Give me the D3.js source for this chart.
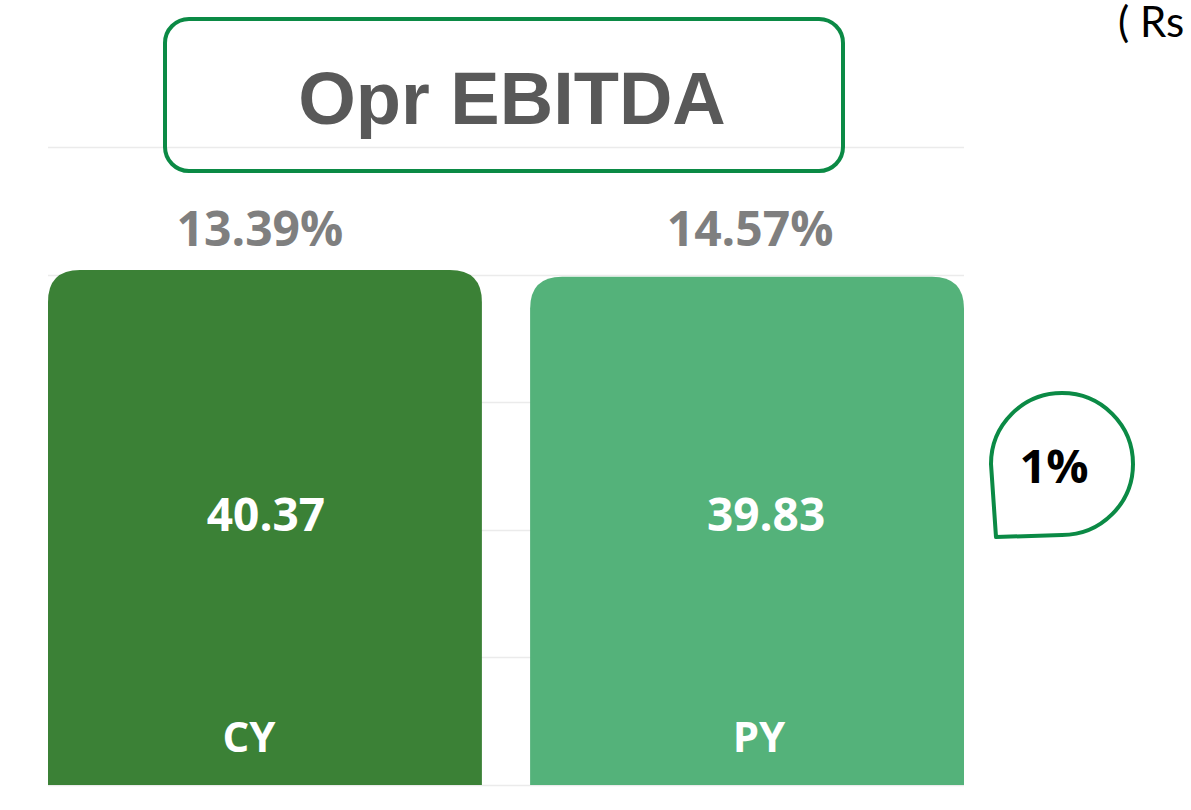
<!DOCTYPE html>
<html>
<head>
<meta charset="utf-8">
<script src="https://cdn.jsdelivr.net/npm/d3@7"></script>
<style>
  html, body { margin: 0; padding: 0; background: #ffffff; overflow: hidden; }
  svg { display: block; }
</style>
</head>
<body>
<svg id="chart" width="1191" height="810"></svg>
<script>
// chart data
var categories = ["CY", "PY"];
var values = [40.37, 39.83];
var marginLabels = ["13.39%", "14.57%"];
var gridTicks = [0, 10, 20, 30, 40, 50];
var titleText = "Opr EBITDA";
var unitText = "( Rs in Cr )";

var barColors = ["#3b8136", "#54b27a"];
var green = "#0b8a45";
var labelFont = "'Open Sans', sans-serif";

var svg = d3.select("#chart");

var x = d3.scaleBand()
    .domain(categories)
    .range([48, 964])
    .paddingInner(0.1)
    .paddingOuter(0);

var y = d3.scaleLinear()
    .domain([0, 50])
    .range([785, 147]);

// grid lines
svg.append("g")
    .attr("class", "grid")
  .selectAll("line")
  .data(gridTicks)
  .enter().append("line")
    .attr("x1", 48)
    .attr("x2", 964)
    .attr("y1", function(d) { return Math.round(y(d)) + 0.5; })
    .attr("y2", function(d) { return Math.round(y(d)) + 0.5; })
    .attr("stroke", "#ebebeb")
    .attr("stroke-width", 1.5);

// bars with rounded top corners
function topRounded(x0, y0, w, h, r) {
    return "M" + x0 + "," + (y0 + h) +
        "V" + (y0 + r) +
        "Q" + x0 + "," + y0 + " " + (x0 + r) + "," + y0 +
        "H" + (x0 + w - r) +
        "Q" + (x0 + w) + "," + y0 + " " + (x0 + w) + "," + (y0 + r) +
        "V" + (y0 + h) + "Z";
}

svg.append("g")
    .attr("class", "bars")
  .selectAll("path")
  .data(categories)
  .enter().append("path")
    .attr("d", function(d, i) {
        return topRounded(x(d), y(values[i]), x.bandwidth(), y(0) - y(values[i]), 32);
    })
    .attr("fill", function(d, i) { return barColors[i]; });

// small horizontal nudges of the labels as in the original
var valueNudge = [1, 19];
var catNudge = [-16, 12];
var pctNudge = [-5, 3];

// value labels
svg.append("g").selectAll("text")
  .data(categories)
  .enter().append("text")
    .attr("x", function(d, i) { return x(d) + x.bandwidth() / 2 + valueNudge[i]; })
    .attr("y", 531)
    .attr("text-anchor", "middle")
    .attr("font-family", labelFont)
    .attr("font-weight", 700)
    .attr("font-size", 46)
    .attr("fill", "#ffffff")
    .text(function(d, i) { return values[i].toFixed(2); });

// category labels
svg.append("g").selectAll("text")
  .data(categories)
  .enter().append("text")
    .attr("x", function(d, i) { return x(d) + x.bandwidth() / 2 + catNudge[i]; })
    .attr("y", 752)
    .attr("text-anchor", "middle")
    .attr("font-family", labelFont)
    .attr("font-weight", 700)
    .attr("font-size", 42)
    .attr("fill", "#ffffff")
    .text(function(d) { return d; });

// margin % labels above bars
svg.append("g").selectAll("text")
  .data(categories)
  .enter().append("text")
    .attr("x", function(d, i) { return x(d) + x.bandwidth() / 2 + pctNudge[i]; })
    .attr("y", 246)
    .attr("text-anchor", "middle")
    .attr("font-family", labelFont)
    .attr("font-weight", 700)
    .attr("font-size", 48)
    .attr("fill", "#7f7f7f")
    .text(function(d, i) { return marginLabels[i]; });

// title box
svg.append("rect")
    .attr("x", 165)
    .attr("y", 19)
    .attr("width", 678)
    .attr("height", 152)
    .attr("rx", 24)
    .attr("fill", "none")
    .attr("stroke", green)
    .attr("stroke-width", 4);

svg.append("text")
    .attr("x", 512)
    .attr("y", 124)
    .attr("text-anchor", "middle")
    .attr("font-family", "'Liberation Sans', Arial, sans-serif")
    .attr("font-weight", "bold")
    .attr("font-size", 74)
    .attr("fill", "#595959")
    .text(titleText);

// unit text top right (cut by the edge, as in the original)
svg.append("text")
    .attr("x", 1118)
    .attr("y", 37)
    .attr("font-family", "Lato, sans-serif")
    .attr("font-size", 42)
    .attr("fill", "#000000")
    .text(unitText);

// growth callout (teardrop)
var growth = (values[0] - values[1]) / values[1] * 100;
var cx = 1062, cy = 464, r = 71;
var drop = "M" + (cx - r) + "," + cy +
    "L" + (cx - r + 5) + "," + (cy + r + 2) +
    "L" + cx + "," + (cy + r) +
    "A" + r + "," + r + " 0 1 0 " + (cx - r) + "," + cy + "Z";

svg.append("path")
    .attr("d", drop)
    .attr("fill", "none")
    .attr("stroke", green)
    .attr("stroke-width", 4)
    .attr("stroke-linejoin", "round");

svg.append("text")
    .attr("x", 1054)
    .attr("y", 483)
    .attr("text-anchor", "middle")
    .attr("font-family", labelFont)
    .attr("font-weight", 700)
    .attr("font-size", 47)
    .attr("fill", "#000000")
    .text(Math.round(growth) + "%");
</script>
</body>
</html>
